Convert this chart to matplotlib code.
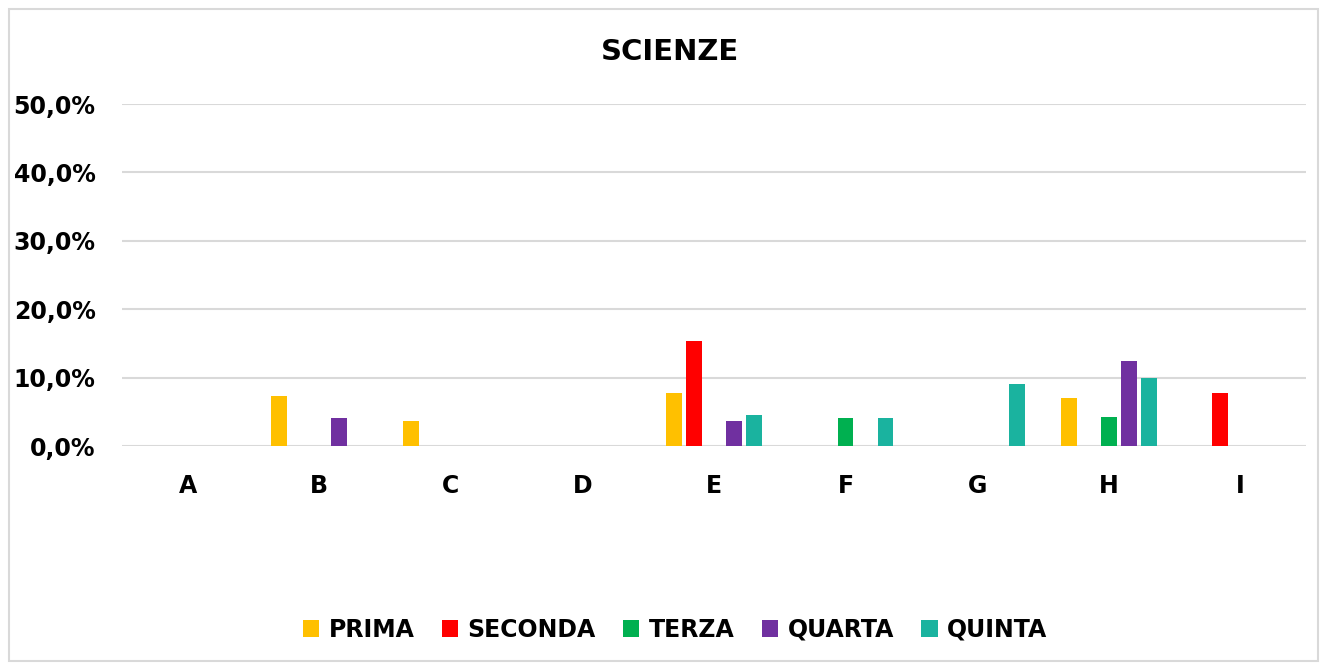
import numpy as np
import matplotlib
matplotlib.use("Agg")
import matplotlib.pyplot as plt
from matplotlib.patches import Rectangle
from matplotlib.ticker import FuncFormatter

# values (fraction of students)
categories = ["A", "B", "C", "D", "E", "F", "G", "H", "I"]
prima = [0.0, 0.073, 0.036, 0.0, 0.078, 0.0, 0.0, 0.070, 0.0]
seconda = [0.0, 0.0, 0.0, 0.0, 0.153, 0.0, 0.0, 0.0, 0.078]
terza = [0.0, 0.0, 0.0, 0.0, 0.0, 0.041, 0.0, 0.042, 0.0]
quarta = [0.0, 0.041, 0.0, 0.0, 0.036, 0.0, 0.0, 0.124, 0.0]
quinta = [0.0, 0.0, 0.0, 0.0, 0.046, 0.041, 0.090, 0.099, 0.0]

series = [("PRIMA", prima, "#FFC000"),
          ("SECONDA", seconda, "#FF0000"),
          ("TERZA", terza, "#00B050"),
          ("QUARTA", quarta, "#7030A0"),
          ("QUINTA", quinta, "#1AB39F")]

plt.rcParams["font.family"] = "DejaVu Sans"
plt.rcParams["font.weight"] = "bold"

fig = plt.figure(figsize=(13.28, 6.70), dpi=100)
ax = fig.add_axes([122 / 1328, 224 / 670, 1184 / 1328, 342 / 670])

x = np.arange(len(categories))
step = 0.152
width = 0.12
for i, (name, vals, color) in enumerate(series):
    ax.bar(x + (i - 2) * step, vals, width, color=color, label=name, zorder=3)

ax.set_xlim(-0.5, len(categories) - 0.5)
ax.set_ylim(0, 0.5)
ax.set_yticks(np.arange(0, 0.51, 0.1))
ax.yaxis.set_major_formatter(FuncFormatter(lambda v, p: f"{v * 100:.1f}%".replace(".", ",")))
ax.set_xticks(x)
ax.set_xticklabels(categories)
ax.tick_params(length=0, labelsize=17, colors="black")
ax.tick_params(axis="y", pad=19)
ax.tick_params(axis="x", pad=20)
for lab in ax.get_yticklabels() + ax.get_xticklabels():
    lab.set_fontweight("bold")
ax.yaxis.grid(True, color="#d9d9d9", linewidth=1.5, zorder=0)
for s in ax.spines.values():
    s.set_visible(False)

fig.text(670 / 1328, 1 - 52 / 670, "SCIENZE", ha="center", va="center",
         fontsize=21, fontweight="bold")

fig.legend(loc="center", bbox_to_anchor=(675 / 1328, 1 - 630 / 670), ncol=5,
           frameon=False, handlelength=0.7, handleheight=0.7,
           handletextpad=0.4, columnspacing=1.15,
           prop={"weight": "bold", "size": 17})

fig.patches.append(Rectangle((9 / 1328, 9 / 670), 1309 / 1328, 652 / 670,
                             transform=fig.transFigure, fill=False,
                             edgecolor="#d9d9d9", linewidth=1.5))

fig.savefig("out.png", dpi=100)
